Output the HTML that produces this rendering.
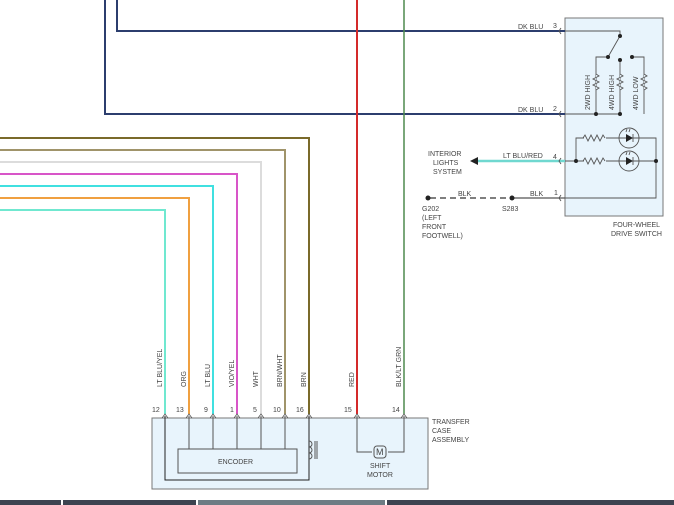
<!DOCTYPE html>
<html><head><meta charset="utf-8"><style>
html,body{margin:0;padding:0;background:#fff;width:674px;height:505px;overflow:hidden}
svg{display:block}
text{font-family:"Liberation Sans",sans-serif;font-size:7px;fill:#444}
</style></head><body>
<svg width="674" height="505" viewBox="0 0 674 505" xmlns="http://www.w3.org/2000/svg">
<rect x="565" y="18" width="98" height="198" fill="#e8f4fc" stroke="#777" stroke-width="1"/>
<rect x="152" y="418" width="276" height="71" fill="#e8f4fc" stroke="#777" stroke-width="1"/>
<polyline points="117,0 117,31 565,31" fill="none" stroke="#2c3e6e" stroke-width="2"/>
<polyline points="105,0 105,114 565,114" fill="none" stroke="#2c3e6e" stroke-width="2"/>
<line x1="357" y1="0" x2="357" y2="414" stroke="#d42a2a" stroke-width="2"/>
<line x1="404" y1="0" x2="404" y2="414" stroke="#4f8a4f" stroke-width="1.5"/>
<polyline points="0,138 309,138 309,414" fill="none" stroke="#7a6a2a" stroke-width="2"/>
<polyline points="0,150 285,150 285,414" fill="none" stroke="#a0946a" stroke-width="2"/>
<polyline points="0,162 261,162 261,414" fill="none" stroke="#dcdcdc" stroke-width="2"/>
<polyline points="0,174 237,174 237,414" fill="none" stroke="#d855c8" stroke-width="2"/>
<polyline points="0,186 213,186 213,414" fill="none" stroke="#40e0e0" stroke-width="2"/>
<polyline points="0,198 189,198 189,414" fill="none" stroke="#f0a040" stroke-width="2"/>
<polyline points="0,210 165,210 165,414" fill="none" stroke="#70e8d0" stroke-width="2"/>
<g>
<text transform="translate(162,387) rotate(-90)">LT BLU/YEL</text>
<text transform="translate(186,387) rotate(-90)">ORG</text>
<text transform="translate(210,387) rotate(-90)">LT BLU</text>
<text transform="translate(234,387) rotate(-90)">VIO/YEL</text>
<text transform="translate(258,387) rotate(-90)">WHT</text>
<text transform="translate(282,387) rotate(-90)">BRN/WHT</text>
<text transform="translate(306,387) rotate(-90)">BRN</text>
<text transform="translate(354,387) rotate(-90)">RED</text>
<text transform="translate(401,387) rotate(-90)">BLK/LT GRN</text>
</g>
<text x="152" y="412">12</text><text x="176" y="412">13</text><text x="204" y="412">9</text>
<text x="230" y="412">1</text><text x="253" y="412">5</text><text x="273" y="412">10</text>
<text x="296" y="412">16</text><text x="344" y="412">15</text><text x="392" y="412">14</text>
<g fill="none" stroke="#555" stroke-width="0.8">
<path d="M162,418 L165,414 L168,418"/><path d="M186,418 L189,414 L192,418"/><path d="M210,418 L213,414 L216,418"/>
<path d="M234,418 L237,414 L240,418"/><path d="M258,418 L261,414 L264,418"/><path d="M282,418 L285,414 L288,418"/>
<path d="M306,418 L309,414 L312,418"/><path d="M354,418 L357,414 L360,418"/><path d="M401,418 L404,414 L407,418"/>
</g>
<g fill="none" stroke="#555" stroke-width="1">
<polyline points="165,416 165,480 309,480 309,416" stroke="#222"/>
<line x1="189" y1="416" x2="189" y2="449"/><line x1="213" y1="416" x2="213" y2="449"/>
<line x1="237" y1="416" x2="237" y2="449"/><line x1="261" y1="416" x2="261" y2="449"/>
<line x1="285" y1="416" x2="285" y2="449"/>
<rect x="178" y="449" width="119" height="24" fill="#e8f4fc"/>
<path d="M309,441 a3,3 0 0 1 0,6 a3,3 0 0 1 0,6 a3,3 0 0 1 0,6"/>
<line x1="315" y1="441" x2="315" y2="459"/><line x1="317" y1="441" x2="317" y2="459"/>
<polyline points="357,416 357,452 372,452"/><polyline points="404,416 404,452 388,452"/>
<rect x="374" y="446" width="12" height="12" rx="3"/>
</g>
<text x="376" y="455" style="font-size:9px">M</text>
<text x="218" y="464">ENCODER</text>
<text x="370" y="468">SHIFT</text><text x="367" y="477">MOTOR</text>
<text x="432" y="424">TRANSFER</text><text x="432" y="433">CASE</text><text x="432" y="442">ASSEMBLY</text>
<text x="518" y="29">DK BLU</text><text x="553" y="28">3</text>
<text x="518" y="112">DK BLU</text><text x="553" y="111">2</text>
<text x="503" y="158">LT BLU/RED</text><text x="553" y="159">4</text>
<text x="530" y="196">BLK</text><text x="554" y="195">1</text>
<text x="458" y="196">BLK</text>
<text x="502" y="211">S283</text>
<line x1="476" y1="161" x2="565" y2="161" stroke="#70d8d0" stroke-width="2.5"/>
<polygon points="470,161 478,157 478,165" fill="#222"/>
<text x="428" y="156">INTERIOR</text><text x="433" y="165">LIGHTS</text><text x="433" y="174">SYSTEM</text>
<line x1="430" y1="198" x2="512" y2="198" stroke="#555" stroke-width="1.5" stroke-dasharray="6,4"/>
<line x1="512" y1="198" x2="565" y2="198" stroke="#555" stroke-width="1.2"/>
<circle cx="512" cy="198" r="2.5" fill="#222"/>
<circle cx="428" cy="198" r="2.5" fill="#222"/>
<text x="422" y="211">G202</text><text x="422" y="220">(LEFT</text><text x="422" y="229">FRONT</text><text x="422" y="238">FOOTWELL)</text>
<text x="613" y="227">FOUR-WHEEL</text><text x="611" y="236">DRIVE SWITCH</text>
<g fill="none" stroke="#555" stroke-width="0.9">
<path d="M561,28 l-2,3 l2,3"/><path d="M561,111 l-2,3 l2,3"/><path d="M561,158 l-2,3 l2,3"/><path d="M561,195 l-2,3 l2,3"/>
<polyline points="565,31 620,31 620,36"/>
<line x1="620" y1="36" x2="608" y2="57"/>
<polyline points="608,57 596,57 596,114"/>
<line x1="620" y1="60" x2="620" y2="114"/>
<polyline points="632,57 644,57 644,114"/>
<line x1="565" y1="114" x2="620" y2="114"/>
<path d="M596,74 l3,2 l-6,3 l6,3 l-6,3 l6,3 l-3,2" fill="#e8f4fc"/>
<path d="M620,74 l3,2 l-6,3 l6,3 l-6,3 l6,3 l-3,2" fill="#e8f4fc"/>
<path d="M644,74 l3,2 l-6,3 l6,3 l-6,3 l6,3 l-3,2" fill="#e8f4fc"/>
<polyline points="565,161 656,161"/>
<polyline points="576,161 576,138 656,138 656,198 565,198"/>
<circle cx="629" cy="138" r="10" fill="#e8f4fc"/>
<circle cx="629" cy="161" r="10" fill="#e8f4fc"/>
<line x1="619" y1="138" x2="639" y2="138"/><line x1="619" y1="161" x2="639" y2="161"/>
</g>
<rect x="584" y="134" width="22" height="8" fill="#e8f4fc"/>
<rect x="584" y="157" width="22" height="8" fill="#e8f4fc"/>
<g fill="none" stroke="#555" stroke-width="0.9">
<path d="M583,138 l2,-3 l3,6 l3,-6 l3,6 l3,-6 l3,6 l3,-6 l2,3"/>
<path d="M583,161 l2,-3 l3,6 l3,-6 l3,6 l3,-6 l3,6 l3,-6 l2,3"/>
<line x1="633" y1="134" x2="633" y2="142"/><line x1="633" y1="157" x2="633" y2="165"/>
<path d="M626,132 l1,-3 M629,132 l1,-3 M626,155 l1,-3 M629,155 l1,-3"/>
</g>
<polygon points="626,134 626,142 633,138" fill="#222"/>
<polygon points="626,157 626,165 633,161" fill="#222"/>
<g fill="#222">
<circle cx="620" cy="36" r="2"/><circle cx="608" cy="57" r="2"/><circle cx="620" cy="60" r="2"/><circle cx="632" cy="57" r="2"/>
<circle cx="596" cy="114" r="2"/><circle cx="620" cy="114" r="2"/>
<circle cx="576" cy="161" r="2"/><circle cx="656" cy="161" r="2"/>
</g>
<text transform="translate(590,110) rotate(-90)">2WD HIGH</text>
<text transform="translate(614,110) rotate(-90)">4WD HIGH</text>
<text transform="translate(638,110) rotate(-90)">4WD LOW</text>
<rect x="0" y="500" width="674" height="5" fill="#3d4350"/>
<rect x="61" y="500" width="2" height="5" fill="#fff"/>
<rect x="196" y="500" width="2" height="5" fill="#fff"/>
<rect x="198" y="500" width="187" height="5" fill="#6d7c84"/>
<rect x="385" y="500" width="2" height="5" fill="#fff"/>
</svg>
</body></html>
